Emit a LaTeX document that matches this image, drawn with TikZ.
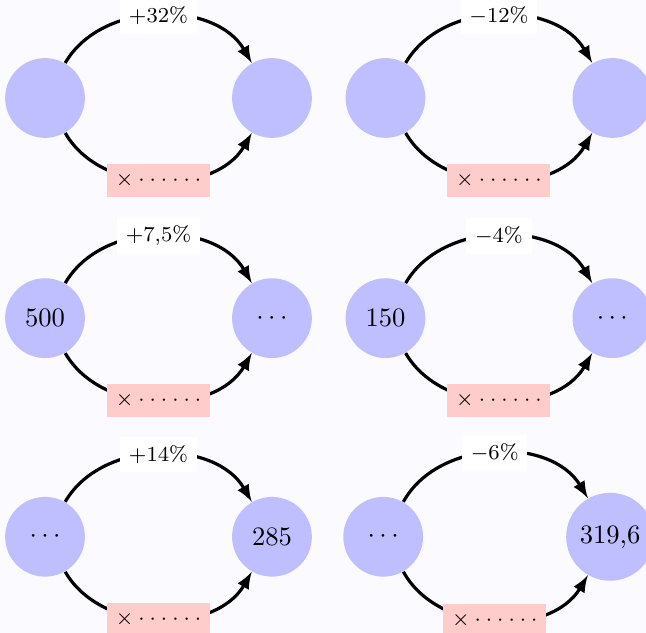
\documentclass[tikz,border=0pt]{standalone}
\usepackage{amssymb}
\usepackage{tikz}
\usetikzlibrary{arrows,arrows.meta}

\begin{document}
\begin{tikzpicture}[>=latex,
	val/.style={circle, fill=blue!25, minimum size=3em},
	taux/.style={fill=white, font=\footnotesize},
	coef/.style={fill=red!20, font=\footnotesize}]
	\useasboundingbox[fill=blue!2] (-0.595,1.295) rectangle (7.944,-7.07);
	\clip (-0.595,1.295) rectangle (7.944,-7.07);
	% ligne 1
	\node[val] (d1) at (0,0) {};
	\node[val] (a1) at (3,0) {};
	\node[val] (d2) at (4.5,0) {};
	\node[val] (a2) at (7.5,0) {};
	% ligne 2
	\node[val] (d3) at (0,-2.91) {500};
	\node[val] (a3) at (3,-2.91) {$\cdots$};
	\node[val] (d4) at (4.5,-2.91) {150};
	\node[val] (a4) at (7.5,-2.91) {$\cdots$};
	% ligne 3
	\node[val] (d5) at (0,-5.8) {$\cdots$};
	\node[val] (a5) at (3,-5.8) {285};
	\node[val] (d6) at (4.47,-5.8) {$\cdots$};
	\node[val] (a6) at (7.47,-5.8) {319,6};
	\path[->, very thick]
	(d1) edge[bend left=60] node[taux] {$+32\%$} (a1)
	edge[bend right=60] node[coef] {$\times\cdot\cdot\cdot\cdot\cdot\cdot$} (a1)
	(d2) edge[bend left=60] node[taux] {$-12\%$} (a2)
	edge[bend right=60] node[coef] {$\times\cdot\cdot\cdot\cdot\cdot\cdot$} (a2)
	(d3) edge[bend left=60] node[taux] {$+7{,}5\%$} (a3)
	edge[bend right=60] node[coef] {$\times\cdot\cdot\cdot\cdot\cdot\cdot$} (a3)
	(d4) edge[bend left=60] node[taux] {$-4\%$} (a4)
	edge[bend right=60] node[coef] {$\times\cdot\cdot\cdot\cdot\cdot\cdot$} (a4)
	(d5) edge[bend left=60] node[taux] {$+14\%$} (a5)
	edge[bend right=60] node[coef] {$\times\cdot\cdot\cdot\cdot\cdot\cdot$} (a5)
	(d6) edge[bend left=60] node[taux] {$-6\%$} (a6)
	edge[bend right=60] node[coef] {$\times\cdot\cdot\cdot\cdot\cdot\cdot$} (a6)
	;
\end{tikzpicture}
\end{document}
